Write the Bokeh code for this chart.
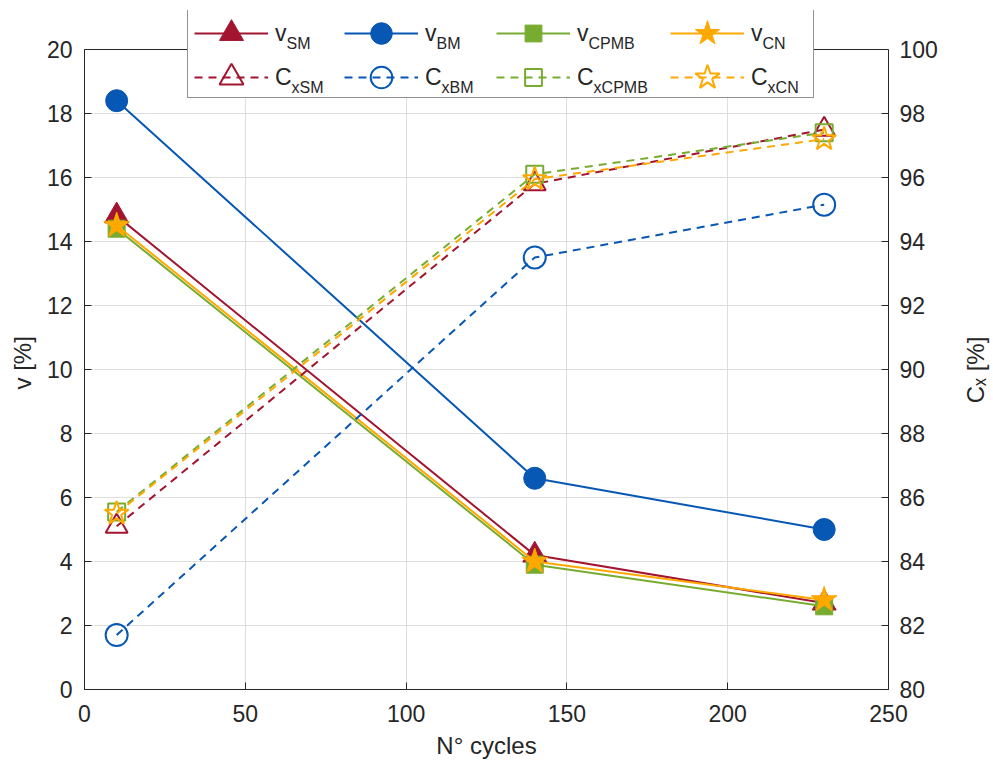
import math
from bokeh.plotting import figure
from bokeh.layouts import row
from bokeh.models import Range1d, LinearAxis, FixedTicker, Legend, LegendItem, Span
from bokeh.core.properties import value
from bokeh.embed import file_html
from bokeh.resources import INLINE

# ---------------- data ----------------
cycles = [10, 140, 230]
v_SM = [14.8, 4.2, 2.7]
v_BM = [18.4, 6.6, 5.0]
v_CPMB = [14.4, 3.9, 2.6]
v_CN = [14.5, 4.0, 2.8]
Cx_SM = [85.1, 95.8, 97.5]
Cx_BM = [81.7, 93.5, 95.15]
Cx_CPMB = [85.55, 96.1, 97.4]
Cx_CN = [85.5, 95.95, 97.2]

x_ticks = [0, 50, 100, 150, 200, 250]
v_ticks = [0, 2, 4, 6, 8, 10, 12, 14, 16, 18, 20]
cx_ticks = [80, 82, 84, 86, 88, 90, 92, 94, 96, 98, 100]

names = ["SM", "BM", "CPMB", "CN"]
v_series = [v_SM, v_BM, v_CPMB, v_CN]
cx_series = [Cx_SM, Cx_BM, Cx_CPMB, Cx_CN]
x_label = "N° cycles"
left_label = "v [%]"
right_label = "Cₓ [%]"

# ---------------- style ----------------
FONT = "Liberation Sans"
TXT = "#262626"
colors = ["#A2142F", "#0757B4", "#77AC30", "#FFA800"]
markers = ["triangle", "circle", "square", "star"]
fill_sizes = [24, 22, 17, 27]
open_sizes = [22, 22, 17, 25]
leg_gh = [60, 54, 42, 64]       # legend glyph heights (marker = 0.4*gh)

W, H = 993, 765
LSTRIP, RSTRIP = 40, 38         # narrow strips holding the rotated axis titles
W1 = W - LSTRIP - RSTRIP
FL, FR, FB = 84, 888, 689       # frame left/right/bottom (window px)
AX_TOP = 49                     # where the axes end (top of the box)
FT = 10                         # frame top, extended so the legend is not clipped
ext = (FB - FT) / (FB - AX_TOP)

p = figure(width=W1, height=H,
           x_range=Range1d(x_ticks[0], x_ticks[-1]),
           y_range=Range1d(v_ticks[0], v_ticks[0] + (v_ticks[-1] - v_ticks[0]) * ext),
           output_backend="svg", toolbar_location=None,
           min_border_left=FL - LSTRIP, min_border_right=(W - RSTRIP) - FR,
           min_border_top=FT, min_border_bottom=H - FB,
           background_fill_color="white", border_fill_color="white",
           outline_line_color=None)
p.extra_y_ranges = {"cx": Range1d(cx_ticks[0], cx_ticks[0] + (cx_ticks[-1] - cx_ticks[0]) * ext)}

def style_axis(ax, standoff, lab_standoff):
    ax.axis_line_color = TXT
    ax.axis_line_width = 1
    ax.major_tick_line_color = TXT
    ax.major_tick_in = 7
    ax.major_tick_out = 0
    ax.minor_tick_line_color = None
    ax.major_label_text_font = FONT
    ax.major_label_text_font_size = "23px"
    ax.major_label_text_color = TXT
    ax.major_label_standoff = standoff
    ax.axis_label_text_font = FONT
    ax.axis_label_text_font_size = "24px"
    ax.axis_label_text_font_style = "normal"
    ax.axis_label_text_color = TXT
    ax.axis_label_standoff = lab_standoff

xa = p.xaxis[0]
xa.ticker = FixedTicker(ticks=x_ticks)
xa.axis_label = x_label
style_axis(xa, 15, 7)

ya = p.yaxis[0]
ya.ticker = FixedTicker(ticks=v_ticks)
ya.bounds = (v_ticks[0], v_ticks[-1])
style_axis(ya, 12, 0)

ra = LinearAxis(y_range_name="cx", ticker=FixedTicker(ticks=cx_ticks),
                bounds=(cx_ticks[0], cx_ticks[-1]))
style_axis(ra, 11, 0)
p.add_layout(ra, "right")

for g in (p.xgrid[0], p.ygrid[0]):
    g.grid_line_color = "#dedede"
    g.grid_line_width = 1

# top edge of the box
p.add_layout(Span(location=v_ticks[-1], dimension="width", line_color=TXT,
                  line_width=1, level="underlay"), "center")

# ---------------- glyphs ----------------
v_r, cx_r = [], []
for name, vals, c, m, s in zip(names, v_series, colors, markers, fill_sizes):
    lr = p.line(cycles, vals, line_color=c, line_width=2)
    sr = p.scatter(cycles, vals, marker=m, size=s, fill_color=c, line_color=c, line_width=1)
    v_r.append((lr, sr))
for name, vals, c, m, s in zip(names, cx_series, colors, markers, open_sizes):
    lr = p.line(cycles, vals, y_range_name="cx", line_color=c, line_width=2, line_dash="8 6")
    sr = p.scatter(cycles, vals, y_range_name="cx", marker=m, size=s, fill_color=None,
                   line_color=c, line_width=2)
    cx_r.append((lr, sr))

# ---------------- legend ----------------
box_l, box_t, box_w, box_h = 187, 11, 625, 87
dummy = p.line(cycles, v_SM, line_alpha=0)
box = Legend(items=[LegendItem(label="", renderers=[dummy])],
             location=(box_l - FL, FB - (box_t + box_h)),
             padding=0, margin=0, spacing=0, glyph_width=box_w, glyph_height=box_h,
             label_standoff=0, label_width=0, label_height=0, label_text_font_size="1px",
             background_fill_color="white", background_fill_alpha=1,
             border_line_color=TXT, border_line_width=1)
p.add_layout(box, "center")

col_x = [194, 344, 496, 670]
row_c = [33, 77]
GW, STAND = 74, 7
main_w = {"v": 0.5 * 23, "C": 0.722 * 23}
rows = [("v", "", v_r), ("C", "x", cx_r)]
SUB_H, SUB_DY = 20, 11
for ri, (main, pre, rends) in enumerate(rows):
    for ci, name in enumerate(names):
        gh = leg_gh[ci]
        lr, sr = rends[ci]
        lg = Legend(items=[LegendItem(label=main, renderers=[lr, sr])],
                    location=(col_x[ci] - FL, FB - (row_c[ri] + gh / 2)),
                    padding=0, margin=0, spacing=0, glyph_width=GW, glyph_height=gh,
                    label_standoff=STAND, label_width=0, label_height=0,
                    label_text_font=FONT, label_text_font_size="23px",
                    label_text_color=TXT,
                    background_fill_color=None, border_line_color=None)
        p.add_layout(lg, "center")
        sub = Legend(items=[LegendItem(label=pre + name, renderers=[dummy])],
                     location=(col_x[ci] - FL + GW + STAND + main_w[main],
                               FB - (row_c[ri] + SUB_DY + SUB_H / 2)),
                     padding=0, margin=0, spacing=0, glyph_width=0, glyph_height=SUB_H,
                     label_standoff=0, label_width=0, label_height=SUB_H,
                     label_text_font=FONT, label_text_font_size="16px",
                     label_text_color=TXT,
                     background_fill_color=None, border_line_color=None)
        p.add_layout(sub, "center")

# ---------------- rotated axis titles (text begins at its anchor) ----------------
def title_strip(width, text, cx, bottom_y):
    q = figure(width=width, height=H, x_range=Range1d(0, width), y_range=Range1d(0, H),
               x_axis_type=None, y_axis_type=None, output_backend="svg",
               toolbar_location=None, min_border=0, outline_line_color=None,
               background_fill_color="white", border_fill_color="white")
    q.grid.visible = False
    q.text(x=[cx], y=[H - bottom_y], text=[text], angle=math.pi / 2,
           text_align="center", text_baseline="middle", text_font=value(FONT),
           text_font_size="24px", text_color=TXT)
    return q

ql = title_strip(LSTRIP, left_label, 22, 397)
qr = title_strip(RSTRIP, right_label, 20, 405)

layout = row(ql, p, qr)
open("out.html", "w").write(file_html(layout, INLINE))
